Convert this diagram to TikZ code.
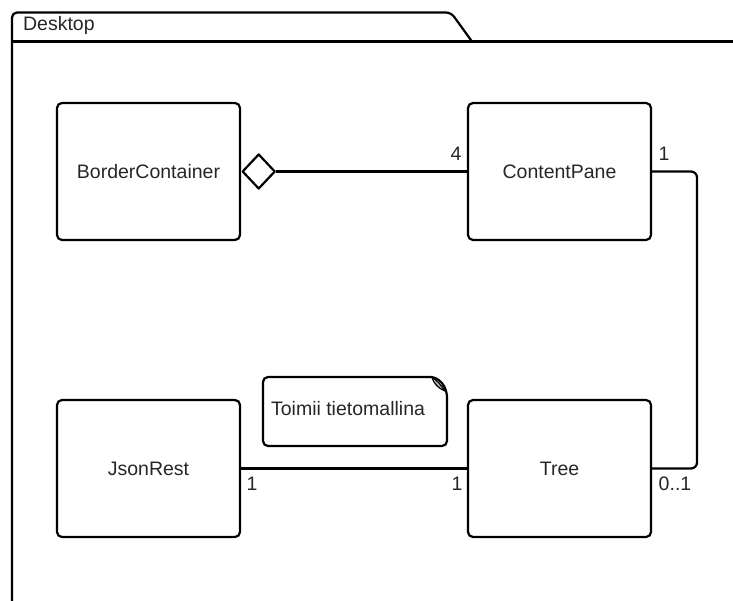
\documentclass[tikz,border=0pt]{standalone}
\usepackage{fontspec}
\setmainfont{Liberation Sans}
\usetikzlibrary{shapes.geometric}
\begin{document}
\begin{tikzpicture}[x=1pt,y=-1pt,
  line width=2.2pt, line join=round,
  every node/.style={font=\fontsize{19.5}{22}\selectfont, text=black!85},
  classbox/.style={draw, rounded corners=5pt, minimum width=183pt, minimum height=137pt, inner sep=0pt},
  mult/.style={inner sep=0pt},
  agg/.style={draw, diamond, fill=white, minimum width=33pt, minimum height=35pt, inner sep=0pt}]
\useasboundingbox (0,0) rectangle (733,601);
\clip (0,0) rectangle (733,601);

% package frame with its tab
\draw[rounded corners=5pt] (12,620) -- (12,12.5) -- (451,12.5) -- (472,41.5);
\draw (12,41.5) -- (745,41.5);
\node[anchor=west, inner sep=0pt] (pkg) at (22,25) {Desktop};

% classes
\node[classbox] (bc) at (148.5,171.5) {BorderContainer};
\node[classbox] (cp) at (559.5,171.5) {ContentPane};
\node[classbox] (jr) at (148.5,468.5) {JsonRest};
\node[classbox] (tr) at (559.5,468.5) {Tree};

% note with folded corner
\draw[rounded corners=5pt] (431,377) -- (263,377) -- (263,446) -- (447,446) -- (447,396);
\draw (431,377) .. controls (440,378) and (446,386) .. (447,396);
\draw[line width=1.2pt, fill=black!30] (432,377.5) .. controls (434,384) and (438,388) .. (445,391) .. controls (441,385) and (437,380) .. cycle;
\node[anchor=west, inner sep=0pt] (note) at (270,409) {Toimii tietomallina};

% aggregation BorderContainer -- ContentPane
\node[agg, anchor=west] (dia) at (bc.east) {};
\draw (dia.east) -- (cp.west);
\node[mult] (m4) at (456,154) {4};

% ContentPane -- Tree
\coordinate (bend1) at (697,171.5);
\coordinate (bend2) at (697,468.5);
\draw[rounded corners=6pt] (cp.east) -- (bend1) -- (bend2) -- (tr.east);
\node[mult] (m1a) at (664,154) {1};
\node[mult] (m01) at (675,484) {0..1};

% JsonRest -- Tree
\draw (jr.east) -- (tr.west);
\node[mult] (m1b) at (252,484) {1};
\node[mult] (m1c) at (457,484) {1};
\end{tikzpicture}
\end{document}
